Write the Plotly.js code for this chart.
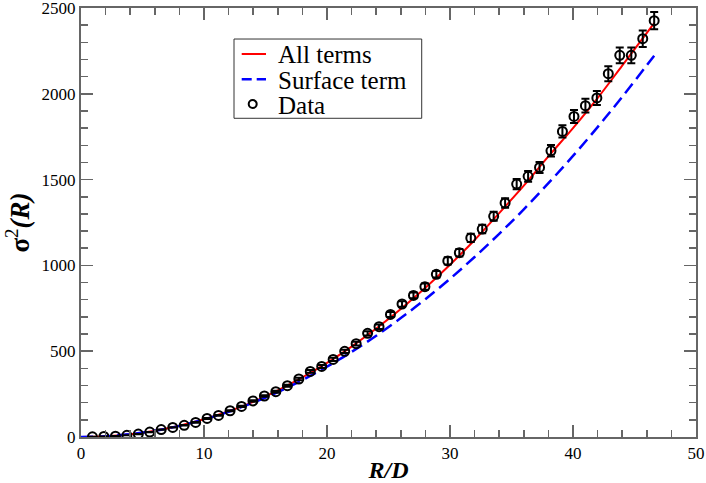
<!DOCTYPE html>
<html>
<head>
<meta charset="utf-8">
<script src="https://cdn.plot.ly/plotly-3.0.1.min.js"></script>
<style>html,body{margin:0;padding:0;background:#fff;}#chart{width:706px;height:483px;}</style>
</head>
<body>
<div id="chart"></div>
<script>
// Data points
var dataR = [0.93,1.86,2.80,3.73,4.66,5.59,6.52,7.46,8.39,9.32,10.25,11.18,12.12,13.05,13.98,14.91,15.84,16.78,17.71,18.64,19.57,20.50,21.44,22.37,23.30,24.23,25.16,26.10,27.03,27.96,28.89,29.82,30.76,31.69,32.62,33.55,34.48,35.42,36.35,37.28,38.21,39.14,40.08,41.01,41.94,42.87,43.80,44.74,45.67,46.60];
var dataSigma2 = [1,3,5,10,17,29,43,56,68,85,108,126,153,178,210,239,264,299,338,382,411,452,499,544,604,643,714,775,825,876,948,1026,1074,1160,1212,1286,1364,1474,1519,1571,1668,1781,1868,1931,1976,2117,2224,2224,2321,2426];
var dataErr = [0.1,0.2,0.3,0.4,0.5,0.7,1,1.3,1.6,2,2.4,2.8,3.3,3.8,4.5,5,5.5,6.2,7,8,8.5,9.3,10,11,12.5,13,14.5,16,17,18,19,21,22,24,25,26,28,30,31,32,34,36,38,40,41,44,46,46,48,50];

// Curves
var curveR = [0,2,4,6,8,10,12,14,16,18,20,22,24,26,28,30,32,34,36,38,40,42,44,46.6];
var allTerms = [0,4.1,16.5,37,66,103,150,205,272,347,432,527,632,746,870,1004,1148,1305,1465,1635,1800,1975,2164,2412];
var surfaceTerm = [0,4,16.3,36.5,65,102,147,200,262,332,410,496,590,693,803,922,1049,1184,1327,1479,1638,1806,1982,2222];

// Legend labels
var legendLabels = ['All terms', 'Surface term', 'Data'];

var axisColor = '#666666';
var serif = '"Times New Roman", "Liberation Serif", Times, serif';
var red = '#ff0000', blue = '#0000ff';

var traces = [
  {x: curveR, y: allTerms, mode: 'lines', name: legendLabels[0],
   line: {color: red, width: 2, shape: 'spline'}},
  {x: curveR, y: surfaceTerm, mode: 'lines', name: legendLabels[1],
   line: {color: blue, width: 2.5, dash: '12px,6px', shape: 'spline'}},
  {x: dataR, y: dataSigma2, mode: 'markers', name: legendLabels[2],
   marker: {symbol: 'circle-open', size: 9, color: '#000', line: {width: 2, color: '#000'}},
   error_y: {type: 'data', array: dataErr, visible: true, color: '#000', thickness: 2, width: 4}}
];

// Hand-built legend box (tight row spacing like the reference)
var lx0 = 0.2488, lx1 = 0.5540, ly0 = 0.7429, ly1 = 0.9277;
var rowY = [0.8928, 0.8338, 0.7762];
var symX0 = 0.2613, symX1 = 0.3008, symXc = 0.2792, textX = 0.3171;

var shapes = [
  {type: 'rect', xref: 'paper', yref: 'paper', x0: lx0, x1: lx1, y0: ly0, y1: ly1,
   line: {color: '#333', width: 1}, fillcolor: '#fff', layer: 'above'},
  {type: 'line', xref: 'paper', yref: 'paper', x0: symX0, x1: symX1, y0: rowY[0], y1: rowY[0],
   line: {color: red, width: 2}, layer: 'above'},
  {type: 'line', xref: 'paper', yref: 'paper', x0: symX0, x1: symX1, y0: rowY[1], y1: rowY[1],
   line: {color: blue, width: 2.5, dash: '10px,5px'}, layer: 'above'},
  {type: 'circle', xref: 'paper', yref: 'paper', xsizemode: 'pixel', ysizemode: 'pixel',
   xanchor: symXc, yanchor: rowY[2], x0: -4, x1: 4, y0: -4, y1: 4,
   line: {color: '#000', width: 2}, layer: 'above'}
];

var annotations = legendLabels.map(function (t, i) {
  return {text: t, xref: 'paper', yref: 'paper', x: textX, y: rowY[i],
          xanchor: 'left', yanchor: 'middle', yshift: -1, showarrow: false,
          font: {family: serif, size: 25, color: '#000'}};
});

var layout = {
  width: 706, height: 483,
  margin: {l: 81, r: 10, t: 8, b: 46},
  paper_bgcolor: '#fff', plot_bgcolor: '#fff',
  font: {family: serif, color: '#000'},
  showlegend: false,
  shapes: shapes,
  annotations: annotations,
  xaxis: {range: [0, 50], dtick: 10, ticks: 'inside', ticklen: 12, tickwidth: 1.5, tickcolor: axisColor,
          showline: true, linecolor: axisColor, linewidth: 2, mirror: 'allticks',
          showgrid: false, zeroline: false, ticklabeloverflow: 'allow',
          minor: {ticks: 'inside', ticklen: 7, tickwidth: 1.5, tickcolor: axisColor, dtick: 2, showgrid: false},
          tickfont: {family: serif, size: 17, color: '#000'},
          title: {text: '<b><i>R/D</i></b>', font: {family: serif, size: 24, color: '#000'}, standoff: 4}},
  yaxis: {range: [0, 2500], dtick: 500, ticks: 'inside', ticklen: 12, tickwidth: 1.5, tickcolor: axisColor,
          showline: true, linecolor: axisColor, linewidth: 2, mirror: 'allticks',
          showgrid: false, zeroline: false, ticklabeloverflow: 'allow',
          minor: {ticks: 'inside', ticklen: 7, tickwidth: 1.5, tickcolor: axisColor, dtick: 100, showgrid: false},
          tickfont: {family: serif, size: 17, color: '#000'},
          title: {text: '<b>σ</b><sup>2</sup><b><i>(R)</i></b>', font: {family: serif, size: 27, color: '#000'}, standoff: 4}}
};

Plotly.newPlot('chart', traces, layout, {displayModeBar: false, staticPlot: true});
</script>
</body>
</html>
